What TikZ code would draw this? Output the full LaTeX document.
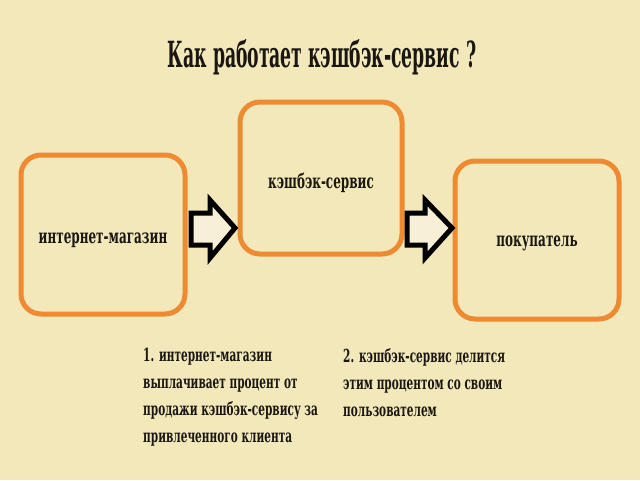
\documentclass[tikz,border=0pt]{standalone}
\usepackage{fontspec}
\usetikzlibrary{calc}
\newfontfamily\kfont{DejaVu Serif Bold}[FakeStretch=0.6]
\newfontfamily\knote{DejaVu Serif Bold}[FakeStretch=0.585]
\newfontfamily\ktitle{DejaVu Serif Bold}[FakeStretch=0.478]
\definecolor{bgc}{HTML}{F2E8BA}
\definecolor{org}{HTML}{EE8A32}
\definecolor{afill}{HTML}{F7F0D6}
\definecolor{ink}{HTML}{1A1712}
\begin{document}
\begin{tikzpicture}[x=1pt,y=-1pt,
  box/.style={draw=org, line width=5pt, rounded corners=20pt, inner sep=0pt,
    text=ink, font=\kfont\fontsize{20}{22}\selectfont},
  blk/.style={draw=black, line width=5pt, fill=afill, line join=miter},
  note/.style={anchor=north west, align=left, inner sep=0pt, text=ink,
    font=\knote\fontsize{18}{27}\selectfont}]
\fill[bgc] (0,0) rectangle (640,480);
\useasboundingbox (0,0) rectangle (640,480);
\node[anchor=base, text=ink, font=\ktitle\fontsize{36}{40}\selectfont] (title) at (322,67) {Как работает кэшбэк-сервис ?};
\node[box, minimum width=164pt, minimum height=159pt, text height=17pt, text depth=0pt] (b1) at (103,234.5) {интернет-магазин};
\node[box, minimum width=162pt, minimum height=152pt, text height=20pt, text depth=0pt] (b2) at (321,178) {кэшбэк-сервис};
\node[box, minimum width=164pt, minimum height=158pt, text height=12pt, text depth=0pt] (b3) at (537,240) {покупатель};
\path (b1.east |- 0,228) coordinate (a1s) (b2.west |- 0,228) coordinate (a1e);
\path (b2.east |- 0,228) coordinate (a2s) (b3.west |- 0,228) coordinate (a2e);
\draw[blk] ($(a1s)+(3.5,-15)$) -- ($(a1s)+(22.5,-15)$) -- ($(a1s)+(22.5,-28)$) -- ($(a1e)+(-2.5,0)$) -- ($(a1s)+(22.5,30)$) -- ($(a1s)+(22.5,17)$) -- ($(a1s)+(3.5,17)$) -- cycle;
\draw[blk] ($(a2s)+(2.5,-15)$) -- ($(a2s)+(20.5,-15)$) -- ($(a2s)+(20.5,-28)$) -- ($(a2e)+(-0.5,0)$) -- ($(a2s)+(20.5,30)$) -- ($(a2s)+(20.5,17)$) -- ($(a2s)+(2.5,17)$) -- cycle;
\node[note] (n1) at (143,348) {1. интернет-магазин\\выплачивает процент от\\продажи кэшбэк-сервису за\\привлеченного клиента};
\node[note] (n2) at (343,348) {2. кэшбэк-сервис делится\\этим процентом со своим\\пользователем};
\end{tikzpicture}
\end{document}
